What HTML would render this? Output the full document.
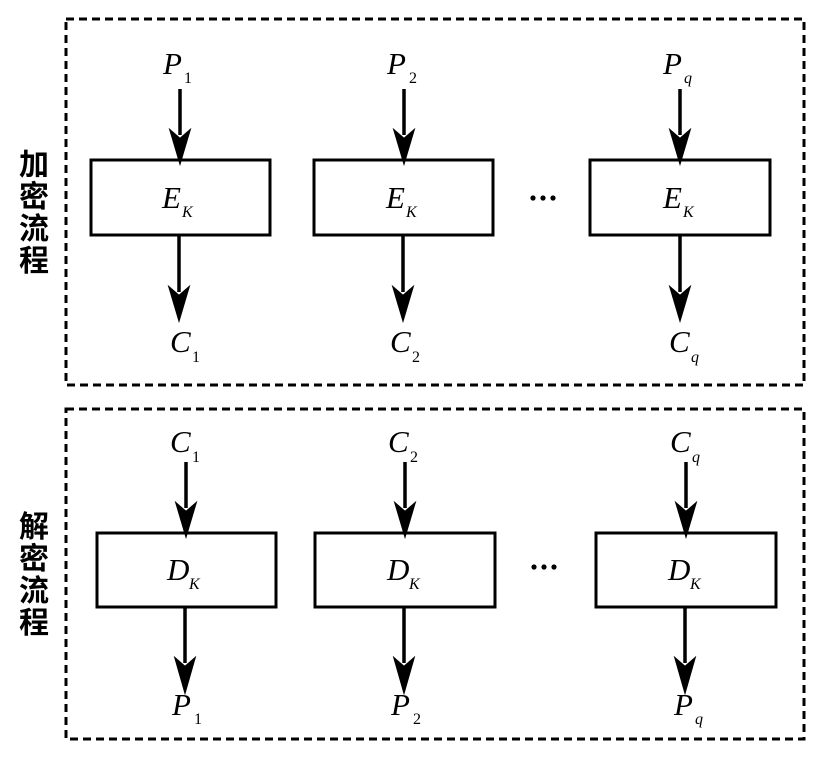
<!DOCTYPE html>
<html><head><meta charset="utf-8"><style>
html,body{margin:0;padding:0;background:#fff;}
svg{display:block;}
.m{font-family:"Liberation Serif",serif;font-style:italic;font-size:31px;}
.s{font-family:"Liberation Serif",serif;font-size:16px;}
.si{font-family:"Liberation Serif",serif;font-style:italic;font-size:16px;}
.cj{font-family:"Liberation Sans","Noto Sans CJK SC",sans-serif;font-size:30px;font-weight:bold;}
</style></head><body>
<svg width="831" height="757" viewBox="0 0 831 757" xmlns="http://www.w3.org/2000/svg">
<g fill="none" stroke="#000" stroke-width="3" stroke-dasharray="8,5">
<rect x="66" y="19" width="738" height="366"/>
<rect x="66" y="409" width="738" height="330"/>
</g>
<g fill="#fff" stroke="#000" stroke-width="3">
<rect x="91" y="160" width="179" height="75"/>
<rect x="314" y="160" width="179" height="75"/>
<rect x="590" y="160" width="180" height="75"/>
<rect x="97" y="533" width="179" height="74"/>
<rect x="315" y="533" width="180" height="74"/>
<rect x="596" y="533" width="180" height="74"/>
</g>
<g stroke="#000" stroke-width="3.5" fill="#000">
<line x1="180" y1="89" x2="180" y2="135"/><path d="M172,133 L180,160 L188,133 L180,140Z"/>
<line x1="404" y1="89" x2="404" y2="135"/><path d="M396,133 L404,160 L412,133 L404,140Z"/>
<line x1="680" y1="89" x2="680" y2="135"/><path d="M672,133 L680,160 L688,133 L680,140Z"/>
<line x1="179" y1="235" x2="179" y2="292"/><path d="M171,290 L179,317 L187,290 L179,297Z"/>
<line x1="403" y1="235" x2="403" y2="292"/><path d="M395,290 L403,317 L411,290 L403,297Z"/>
<line x1="680" y1="235" x2="680" y2="292"/><path d="M672,290 L680,317 L688,290 L680,297Z"/>
<line x1="186" y1="462" x2="186" y2="508"/><path d="M178,506 L186,533 L194,506 L186,513Z"/>
<line x1="405" y1="462" x2="405" y2="508"/><path d="M397,506 L405,533 L413,506 L405,513Z"/>
<line x1="686" y1="462" x2="686" y2="508"/><path d="M678,506 L686,533 L694,506 L686,513Z"/>
<line x1="185" y1="607" x2="185" y2="663"/><path d="M177,661 L185,689 L193,661 L185,668Z"/>
<line x1="404" y1="607" x2="404" y2="663"/><path d="M396,661 L404,689 L412,661 L404,668Z"/>
<line x1="685" y1="607" x2="685" y2="663"/><path d="M677,661 L685,689 L693,661 L685,668Z"/>
</g>
<g fill="#000">
<text class="m" x="163" y="74">P</text><text class="s" x="184" y="83">1</text>
<text class="m" x="387" y="74">P</text><text class="s" x="409" y="83">2</text>
<text class="m" x="663" y="74">P</text><text class="si" x="684" y="83">q</text>
<text class="m" x="162" y="208">E</text><text class="si" x="182" y="217">K</text>
<text class="m" x="386" y="208">E</text><text class="si" x="406" y="217">K</text>
<text class="m" x="663" y="208">E</text><text class="si" x="683" y="217">K</text>
<text class="m" x="170" y="352">C</text><text class="s" x="192" y="362">1</text>
<text class="m" x="390" y="352">C</text><text class="s" x="412" y="362">2</text>
<text class="m" x="669" y="352">C</text><text class="si" x="691" y="362">q</text>
<text class="m" x="170" y="452">C</text><text class="s" x="192" y="462">1</text>
<text class="m" x="388" y="452">C</text><text class="s" x="410" y="462">2</text>
<text class="m" x="670" y="452">C</text><text class="si" x="692" y="462">q</text>
<text class="m" x="167" y="580">D</text><text class="si" x="189" y="589">K</text>
<text class="m" x="387" y="580">D</text><text class="si" x="409" y="589">K</text>
<text class="m" x="668" y="580">D</text><text class="si" x="690" y="589">K</text>
<text class="m" x="172" y="715">P</text><text class="s" x="194" y="724">1</text>
<text class="m" x="391" y="715">P</text><text class="s" x="413" y="724">2</text>
<text class="m" x="674" y="715">P</text><text class="si" x="695" y="724">q</text>
<circle cx="533" cy="198" r="2.6"/><circle cx="543" cy="198" r="2.6"/><circle cx="553" cy="198" r="2.6"/>
<circle cx="534" cy="567" r="2.6"/><circle cx="544" cy="567" r="2.6"/><circle cx="554" cy="567" r="2.6"/>
<text class="cj" x="19" y="175">加</text>
<text class="cj" x="19" y="207">密</text>
<text class="cj" x="19" y="239">流</text>
<text class="cj" x="19" y="271">程</text>
<text class="cj" x="19" y="537">解</text>
<text class="cj" x="19" y="569">密</text>
<text class="cj" x="19" y="601">流</text>
<text class="cj" x="19" y="633">程</text>
</g>
</svg>
</body></html>
